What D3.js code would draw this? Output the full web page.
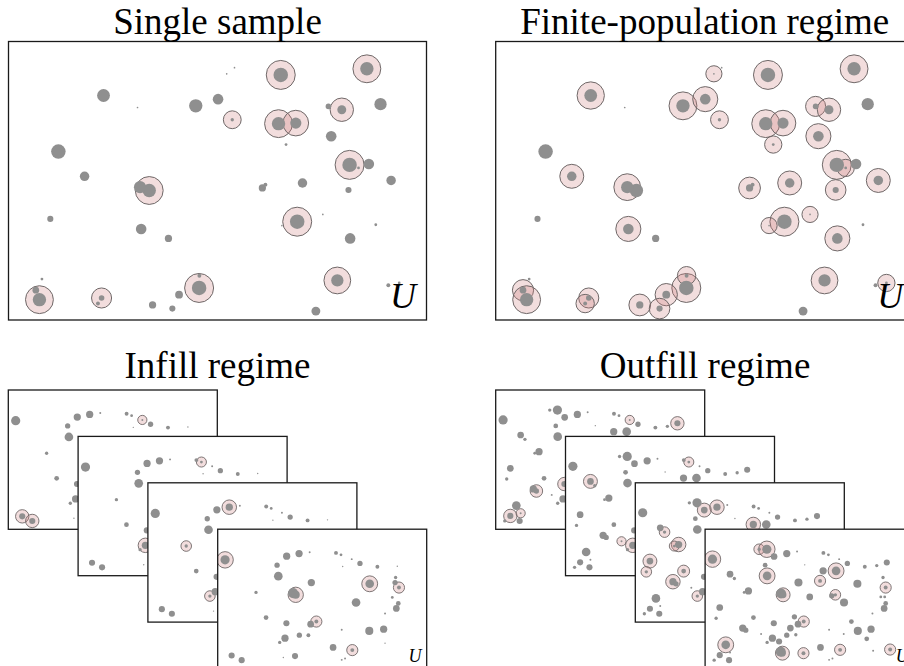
<!DOCTYPE html>
<html>
<head>
<meta charset="utf-8">
<script src="https://cdn.jsdelivr.net/npm/d3@7"></script>
<style>
  body { margin: 0; background: #fff; }
  svg { display: block; }
</style>
</head>
<body>
<svg id="fig" width="904" height="666"></svg>
<script>
// population of the top two panels (x 0..150, y 0..100, dot radius in same units)
var topX = [97.7,128.6,80.3,96.9,103.1,119.6,114.8,122.4,125.6,50.5,47.2,103.6,68.4,68.5,118.0,11.1,9.8,33.4,32.1,34.1,
            17.9,27.3,15.0,47.6,57.4,67.2,75.2,46.3,78.3,81.1,115.8,99.6,133.5,129.3,137.3,105.5,122.0,91.1,92.2,112.8,
            131.8,122.6,98.1,12.0,61.2,51.7,58.8,110.3,136.3,140.2];
var topY = [88.0,90.2,71.9,70.5,70.7,75.5,76.7,55.7,54.6,46.5,47.7,35.3,11.5,15.9,14.2,7.3,10.7,7.9,5.9,80.6,
            60.5,51.6,36.3,32.7,29.3,76.9,79.3,76.3,88.4,90.6,66.0,63.0,77.5,56.0,50.1,49.2,46.7,47.4,48.6,37.9,
            34.2,29.3,33.9,14.7,9.1,5.4,4.1,3.2,12.5,13.3];
var topR = [2.6,2.4,0.6,2.4,2.0,1.6,1.0,2.6,0.5,2.4,2.2,2.6,2.6,0.7,2.2,2.4,1.2,1.0,0.7,2.3,
            2.6,1.7,1.1,1.9,1.3,2.4,1.9,0.3,0.3,0.3,1.9,0.5,2.2,1.9,1.7,1.7,1.1,1.3,0.7,0.3,
            0.5,1.9,0.3,0.5,1.4,1.3,1.1,1.6,0.7,0.5];
var singleSample = [0,1,2,3,4,5,7,9,11,12,14,15,17];
var finiteSample = [19,28,0,1,25,26,2,3,4,31,6,5,30,7,8,34,21,35,36,37,10,11,42,39,23,41,14,49,12,13,44,45,46,16,15,17,18];

// population for the infill stack
var infillX = [5.3,49.5,58.4,66.0,42.6,43.5,67.2,27.5,54.1,56.0,84.9,88.5,96.2,102.1,114.6,128.9,89.7,109.1,127.7,127.3,
               130.1,125.3,129.6,128.2,120.1,99.3,34.7,49.3,66.7,70.8,48.3,44.5,58.6,65.1,89.0,108.8,119.1,120.1,82.8,96.6,
               91.4,89.0,55.5,47.1,10.0,17.2];
var infillY = [78.0,80.6,82.5,83.5,74.2,66.3,61.7,54.6,54.1,52.9,83.0,81.6,78.5,75.4,73.0,73.4,73.2,60.8,65.3,61.7,
               58.1,51.0,46.7,43.1,39.5,47.4,36.6,32.5,31.8,33.7,21.8,18.7,23.9,23.9,27.8,27.0,28.2,18.2,15.1,13.2,
               7.2,6.2,8.9,7.9,9.3,6.0];
var infillR = [3.3,2.6,2.6,0.7,1.9,3.1,2.6,1.2,3.6,2.9,1.4,1.0,0.7,1.9,1.4,0.5,0.5,3.1,1.2,1.9,
               1.4,1.0,1.7,2.4,0.7,3.1,1.7,2.2,2.4,1.4,2.6,1.2,1.9,1.4,0.7,2.9,2.6,0.5,2.4,1.4,
               0.7,0.7,2.2,0.5,2.2,2.2];
var infillSamples = [[12,44,45],[11,30],[2,7,31],[0,9,17,20,29,39]];

// population for the outfill stack
var outfillX = [5.3,38.8,44.3,49.5,58.6,66.0,43.1,44.5,17.9,21.0,31.1,28.0,54.5,56.0,67.0,84.9,88.5,96.2,102.1,114.6,
                130.4,71.5,84.7,94.0,82.5,109.3,75.1,90.9,93.5,99.7,127.7,129.6,126.1,128.9,129.6,128.5,10.5,34.7,49.3,64.1,
                66.7,70.8,61.2,105.0,109.6,119.1,116.0,120.1,27.0,29.2,48.3,44.5,40.2,53.1,58.6,65.1,89.0,99.5,14.8,10.5,
                6.5,17.2,54.3,55.5,70.6,82.8,96.9,91.4,89.0,120.6,132.8,7.9,17.9,123.2];
var outfillY = [78.5,85.6,85.6,80.4,82.5,84.0,74.2,66.5,67.7,64.6,55.7,54.6,53.8,52.9,61.7,83.0,81.6,78.5,75.4,73.0,
                76.1,74.4,70.1,70.1,62.9,60.8,51.4,52.2,52.9,47.4,65.3,58.1,51.4,51.4,46.7,43.1,43.8,36.6,32.5,37.1,
                31.8,33.7,29.0,33.7,27.0,28.2,21.3,39.5,29.0,27.5,21.8,18.7,24.7,19.4,23.9,24.2,27.8,24.7,17.0,9.6,
                6.0,6.0,12.0,11.0,11.0,15.1,13.4,7.2,6.2,12.7,13.6,36.1,11.5,73.9];
var outfillR = [3.3,1.2,3.3,2.4,2.6,0.7,1.7,3.1,2.4,1.2,2.6,1.0,3.6,2.4,2.9,1.4,1.0,0.7,1.9,1.4,
                2.2,0.5,2.6,3.1,1.4,2.9,2.4,1.9,1.2,2.9,1.2,1.4,1.0,1.0,1.7,2.4,2.4,1.7,2.2,1.9,
                2.4,1.4,2.4,1.7,2.9,2.6,1.7,0.7,2.6,1.9,2.6,1.2,0.7,2.2,1.9,1.2,0.7,0.7,3.1,2.2,
                1.2,2.2,3.6,2.4,1.4,2.4,1.4,0.7,0.7,0.7,1.4,1.2,0.7,1.2];
var outfillSamples = [[49,38,59,72,17,20],[16,8,52,50],[4,3,9,10,11,36,71,37,48,51,22],[0,1,2,7,13,23,24,28,31,41,58,63,64,66,70]];

var titles = ["Single sample", "Finite-population regime", "Infill regime", "Outfill regime"];

var ringPad = 2.6;   // ring radius = dot radius + this (data units)
var dotColor = "#8f8f8f";

var svg = d3.select("#fig");
var clipCount = 0;

// draws one framed panel with its dots and sampled rings
function drawPanel(box, xs, ys, rs, sampled, labelSize) {
    var x = d3.scaleLinear().domain([0, 150]).range([box.x, box.x + box.w]);
    var y = d3.scaleLinear().domain([0, 100]).range([box.y + box.h, box.y]);
    var rad = d3.scaleLinear().domain([0, 150]).range([0, box.w]);

    var id = "clip" + (clipCount++);
    svg.append("clipPath").attr("id", id)
        .append("rect")
        .attr("x", box.x).attr("y", box.y)
        .attr("width", box.w).attr("height", box.h);

    var g = svg.append("g");
    g.append("rect")
        .attr("x", box.x).attr("y", box.y)
        .attr("width", box.w).attr("height", box.h)
        .attr("fill", "#fff");

    var inner = g.append("g").attr("clip-path", "url(#" + id + ")");

    inner.selectAll("circle.ring")
        .data(sampled)
        .join("circle")
        .attr("class", "ring")
        .attr("cx", function(i) { return x(xs[i]); })
        .attr("cy", function(i) { return y(ys[i]); })
        .attr("r", function(i) { return rad(rs[i] + ringPad); })
        .attr("fill", "rgb(205,120,120)")
        .attr("fill-opacity", 0.25)
        .attr("stroke", "#6f6868")
        .attr("stroke-width", labelSize > 20 ? 1 : 0.9);

    inner.selectAll("circle.dot")
        .data(d3.range(xs.length))
        .join("circle")
        .attr("class", "dot")
        .attr("cx", function(i) { return x(xs[i]); })
        .attr("cy", function(i) { return y(ys[i]); })
        .attr("r", function(i) { return rad(rs[i]); })
        .attr("fill", dotColor);

    g.append("text")
        .attr("x", x(136.9))
        .attr("y", y(4.4))
        .style("font-family", "'Liberation Serif', 'DejaVu Serif', serif")
        .style("font-style", "italic")
        .style("font-size", labelSize + "px")
        .text("U");

    g.append("rect")
        .attr("x", box.x).attr("y", box.y)
        .attr("width", box.w).attr("height", box.h)
        .attr("fill", "none")
        .attr("stroke", "#1a1a1a")
        .attr("stroke-width", 1.3);
}

function title(txt, cx, by) {
    svg.append("text")
        .attr("x", cx).attr("y", by)
        .attr("text-anchor", "middle")
        .style("font-family", "'Liberation Serif', 'DejaVu Serif', serif")
        .style("font-size", "37px")
        .text(txt);
}

// top row
var bigW = 418, bigH = 278.5;
drawPanel({x: 8.5, y: 41.5, w: bigW, h: bigH}, topX, topY, topR, singleSample, 36);
drawPanel({x: 495.7, y: 41.5, w: bigW, h: bigH}, topX, topY, topR, finiteSample, 36);
title(titles[0], 8.5 + bigW / 2, 33.5);
title(titles[1], 495.7 + bigW / 2, 33.5);

// bottom row: four stacked windows per regime
var smallW = 209, smallH = 139.3, stepX = 69.8, stepY = 46.4;
infillSamples.forEach(function(s, k) {
    drawPanel({x: 8.3 + stepX * k, y: 390 + stepY * k, w: smallW, h: smallH},
              infillX, infillY, infillR, s, 18);
});
outfillSamples.forEach(function(s, k) {
    drawPanel({x: 495.7 + stepX * k, y: 390 + stepY * k, w: smallW, h: smallH},
              outfillX, outfillY, outfillR, s, 18);
});
title(titles[2], 217.5, 378);
title(titles[3], 705, 378);
</script>
</body>
</html>
